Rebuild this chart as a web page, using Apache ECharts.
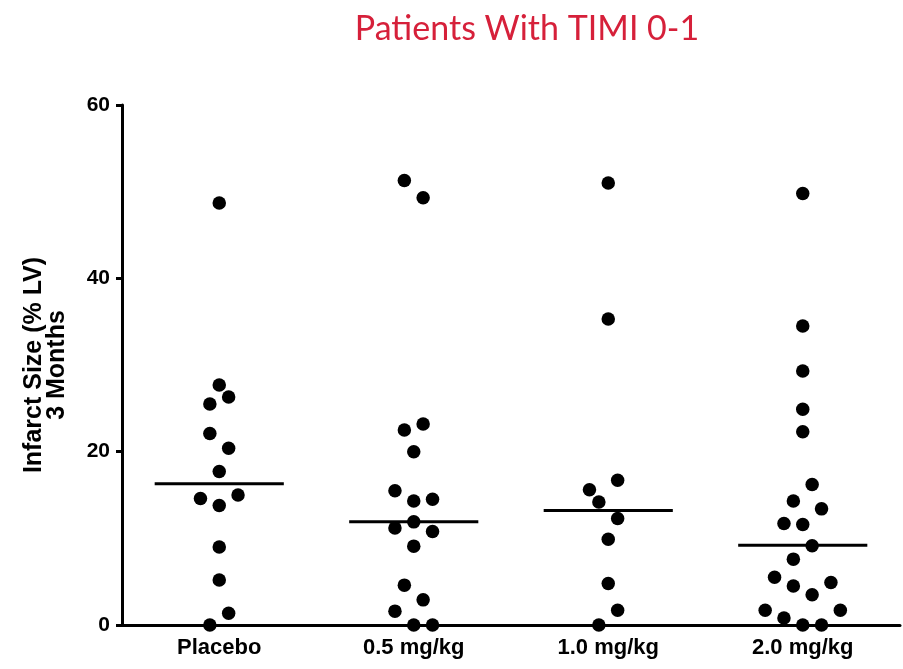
<!DOCTYPE html>
<html>
<head>
<meta charset="utf-8">
<title>Patients With TIMI 0-1</title>
<script src="https://cdn.jsdelivr.net/npm/echarts@6/dist/echarts.min.js"></script>
<style>
html, body { margin: 0; padding: 0; background: #fff; }
#chart { width: 903px; height: 669px; }
</style>
</head>
<body>
<div id="chart"></div>
<script>
/* groups on the x axis */
var groups = ['Placebo', '0.5 mg/kg', '1.0 mg/kg', '2.0 mg/kg'];
var yTicks = [0, 20, 40, 60];

/* infarct size (% LV) per patient */
var placeboVals = [48.7, 27.7, 26.3, 25.5, 22.1, 20.4, 17.7, 14.6, 15.0, 13.8, 9.0, 5.2, 1.35, 0];
var dose05Vals = [51.3, 49.3, 23.2, 22.5, 20.0, 15.5, 14.3, 14.5, 11.9, 11.2, 10.8, 9.1, 4.6, 2.9, 1.6, 0, 0];
var dose10Vals = [51.0, 35.3, 16.7, 15.6, 14.2, 12.3, 9.9, 4.8, 1.7, 0];
var dose20Vals = [49.8, 34.5, 29.3, 24.9, 22.3, 16.2, 14.3, 13.4, 11.7, 11.6, 9.15, 7.6, 5.5, 4.5, 4.9, 3.5, 1.7, 1.7, 0.8, 0, 0];

/* scatter column (jitter slot) of each dot, -4 .. 4 */
var placeboSlots = [0, 0, 1, -1, -1, 1, 0, -2, 2, 0, 0, 0, 1, -1];
var dose05Slots = [-1, 1, 1, -1, 0, -2, 0, 2, 0, -2, 2, 0, -1, 1, -2, 0, 2];
var dose10Slots = [0, 0, 1, -2, -1, 1, 0, 0, 1, -1];
var dose20Slots = [0, 0, 0, 0, 0, 1, -1, 2, -2, 0, 1, -1, -3, -1, 3, 1, -4, 4, -2, 0, 2];

/* median of each group */
var medians = [16.3, 11.9, 13.2, 9.2];

var allVals = [placeboVals, dose05Vals, dose10Vals, dose20Vals];
var allSlots = [placeboSlots, dose05Slots, dose10Slots, dose20Slots];

var SLOT_W = 0.0483;   // width of one jitter column, in category units
var HALF_LINE = 0.332; // half length of the median bar

var series = [];
for (var g = 0; g < groups.length; g++) {
	series.push({
		type : 'line',
		xAxisIndex : 1,
		data : [ [ g - HALF_LINE, medians[g] ], [ g + HALF_LINE, medians[g] ] ],
		symbol : 'none',
		lineStyle : { color : '#000', width : 3 },
		silent : true,
		z : 2
	});
	var pts = [];
	for (var i = 0; i < allVals[g].length; i++) {
		pts.push([ g + allSlots[g][i] * SLOT_W, allVals[g][i] ]);
	}
	series.push({
		name : groups[g],
		type : 'scatter',
		xAxisIndex : 1,
		data : pts,
		symbol : 'circle',
		symbolSize : 13.5,
		itemStyle : { color : '#000', opacity : 1 },
		clip : false,
		z : 3
	});
}

var chart = echarts.init(document.getElementById('chart'));
chart.setOption({
	animation : false,
	backgroundColor : '#fff',
	title : {
		text : 'Patients With TIMI 0-1',
		left : 522,
		top : 7,
		textAlign : 'center',
		textStyle : {
			color : '#D6203A',
			fontFamily : 'Lato',
			fontWeight : 'normal',
			fontSize : 34
		}
	},
	grid : {
		left : 122,
		right : 3,
		top : 105,
		bottom : 44,
		containLabel : false
	},
	xAxis : [ {
		type : 'category',
		data : groups,
		boundaryGap : true,
		axisLine : { lineStyle : { color : '#000', width : 3 } },
		axisTick : { alignWithLabel : true, length : 6, lineStyle : { color : '#000', width : 3 } },
		axisLabel : {
			margin : 12,
			color : '#000',
			fontFamily : 'Liberation Sans',
			fontWeight : 'bold',
			fontSize : 22
		},
		splitLine : { show : false }
	}, {
		type : 'value',
		min : -0.5,
		max : 3.5,
		show : false
	} ],
	yAxis : {
		type : 'value',
		min : yTicks[0],
		max : yTicks[yTicks.length - 1],
		interval : 20,
		name : 'Infarct Size (% LV)\n3 Months',
		nameLocation : 'middle',
		nameRotate : 90,
		nameGap : 53,
		nameTextStyle : {
			color : '#000',
			fontFamily : 'Liberation Sans',
			fontWeight : 'bold',
			fontSize : 25,
			lineHeight : 23
		},
		axisLine : { show : true, onZero : false, lineStyle : { color : '#000', width : 3 } },
		axisTick : { show : true, length : 6, lineStyle : { color : '#000', width : 3 } },
		axisLabel : {
			margin : 12,
			color : '#000',
			fontFamily : 'Liberation Sans',
			fontWeight : 'bold',
			fontSize : 21
		},
		splitLine : { show : false }
	},
	series : series
});
</script>
</body>
</html>
